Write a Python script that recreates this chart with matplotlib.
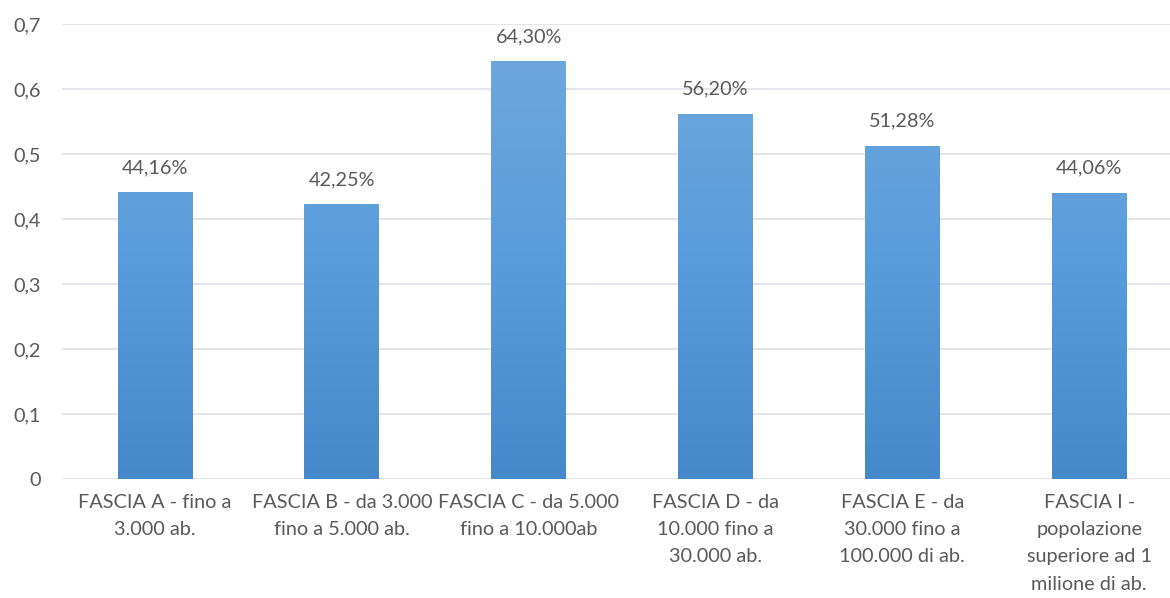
import matplotlib
matplotlib.use("Agg")
import matplotlib.pyplot as plt
import numpy as np
from matplotlib.colors import LinearSegmentedColormap

categories = ["FASCIA A - fino a\n3.000 ab.",
              "FASCIA B - da 3.000\nfino a 5.000 ab.",
              "FASCIA C - da 5.000\nfino a 10.000ab",
              "FASCIA D - da\n10.000 fino a\n30.000 ab.",
              "FASCIA E - da\n30.000 fino a\n100.000 di ab.",
              "FASCIA I -\npopolazione\nsuperiore ad 1\nmilione di ab."]
values = [0.4416, 0.4225, 0.6430, 0.5620, 0.5128, 0.4406]
yticks = [0, 0.1, 0.2, 0.3, 0.4, 0.5, 0.6, 0.7]

plt.rcParams['font.family'] = ['Lato', 'DejaVu Sans']
txt = '#595959'
fs = 14.3

fig = plt.figure(figsize=(11.7, 5.98), dpi=100)
ax = fig.add_axes([61.6/1170, 119/598, 1121/1170, 455/598])

x = np.arange(len(values))
bars = ax.bar(x, values, width=0.4, color='none', zorder=3)
cmap = LinearSegmentedColormap.from_list('g', ['#4689CA', '#5A9DDC', '#72A8DC'])
grad = np.linspace(0, 1, 256).reshape(-1, 1)
for b in bars:
    x0, y0 = b.get_x(), b.get_y()
    w, h = b.get_width(), b.get_height()
    im = ax.imshow(grad, cmap=cmap, aspect='auto', origin='lower',
                   extent=[x0, x0 + w, 0, 0.7], zorder=3)
    im.set_clip_path(b)

for xi, v in zip(x, values):
    ax.annotate(f"{v*100:.2f}%".replace('.', ','), (xi, v), xytext=(0, 11.5),
                textcoords='offset points', ha='center', va='bottom',
                fontsize=fs, color=txt)

ax.set_xlim(-0.5, len(values) - 0.5)
ax.set_ylim(0, 0.7)
ax.set_yticks(yticks)
ax.set_yticklabels([("0" if t == 0 else f"{t:.1f}".replace('.', ',')) for t in yticks])
ax.set_xticks(x)
ax.set_xticklabels(categories, linespacing=1.72)
ax.tick_params(axis='both', length=0, colors=txt, labelsize=fs)
ax.tick_params(axis='y', pad=15)
ax.tick_params(axis='x', pad=11)
for s in ax.spines.values():
    s.set_visible(False)
ax.grid(axis='y', color='#E0E3E8', linewidth=1.3, zorder=0)
ax.set_axisbelow(True)

fig.savefig('out.png', dpi=100)
